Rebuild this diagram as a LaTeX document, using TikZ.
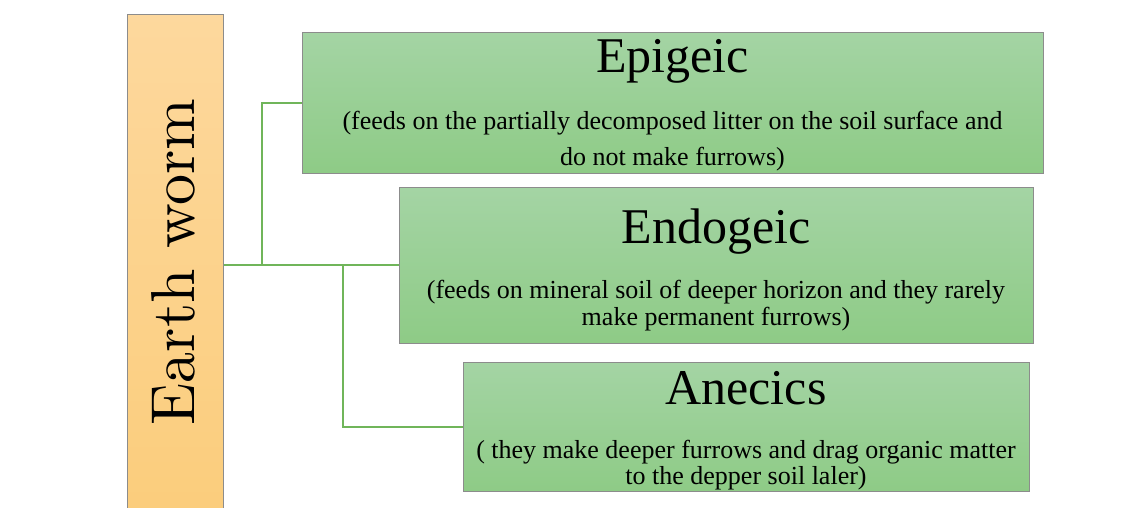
\documentclass[tikz,border=0pt]{standalone}
\usepackage{fontspec}
\newfontfamily\tnr{Liberation Serif}
\newfontfamily\lmten{lmroman10-regular.otf}
\definecolor{gtop}{HTML}{A4D4A4}
\definecolor{gbot}{HTML}{8ECB86}
\definecolor{otop}{HTML}{FDD89D}
\definecolor{obot}{HTML}{FBCD7C}
\definecolor{conncol}{HTML}{70B55A}
\definecolor{edge}{HTML}{8C8C8C}
\tikzset{
  catbox/.style={draw=edge, line width=1pt, shading=axis, top color=gtop, bottom color=gbot, anchor=north west, inner sep=0pt},
  rootbox/.style={draw=edge, line width=0.8pt, shading=axis, top color=otop, bottom color=obot, anchor=north west, inner sep=0pt},
  title/.style={font=\tnr\fontsize{50}{60}\selectfont, anchor=base, inner sep=0pt},
  desc/.style={font=\tnr\fontsize{26}{30}\selectfont, anchor=base, inner sep=0pt},
  conn/.style={draw=conncol, line width=2pt}
}
\begin{document}
\begin{tikzpicture}[x=1pt,y=-1pt]
\useasboundingbox (0,0) rectangle (1148,508);
\node[rootbox, minimum width=96pt, minimum height=500pt] (root) at (127,14) {};
\node[rotate=90, anchor=base, inner sep=0pt, font=\lmten\fontsize{62}{70}\selectfont] (rootlbl) at (194,262) {Earth worm};

\node[catbox, minimum width=741pt, minimum height=141pt] (epi) at (302,32) {};
\node[catbox, minimum width=634pt, minimum height=156pt] (endo) at (399,187) {};
\node[catbox, minimum width=566pt, minimum height=129pt] (ane) at (463,362) {};

\node[title] (epit) at (672.5,73) {Epigeic};
\node[desc] (epid1) at (672.5,130) {(feeds on the partially decomposed litter on the soil surface and};
\node[desc] (epid2) at (672.5,165) {do not make furrows)};

\node[title] (endot) at (716,243) {Endogeic};
\node[desc] (endod1) at (716,298) {(feeds on mineral soil of deeper horizon and they rarely};
\node[desc] (endod2) at (716,325) {make permanent furrows)};

\node[title] (anet) at (746,404) {Anecics};
\node[desc] (aned1) at (746,458) {( they make deeper furrows and drag organic matter};
\node[desc] (aned2) at (746,484) {to the depper soil laler)};

\coordinate (j1) at (262,265);
\coordinate (j2) at (343,265);
\draw[conn] (root.east |- j1) -- (endo.west |- j1);
\draw[conn] (j1) |- (epi.west);
\draw[conn] (j2) |- (ane.west);
\end{tikzpicture}
\end{document}
